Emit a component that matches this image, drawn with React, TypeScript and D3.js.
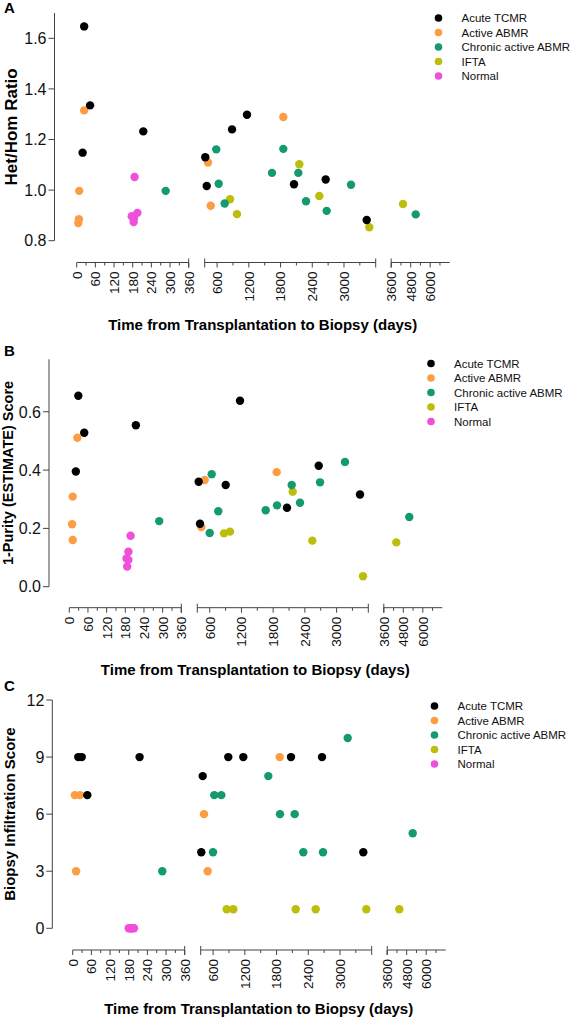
import React from 'react';
import * as d3 from 'd3';

type Pt = [number, number];

const categories = ['Acute TCMR', 'Active ABMR', 'Chronic active ABMR', 'IFTA', 'Normal'];
const colors = ['#000000', '#FC9D43', '#139A6F', '#BDBD0C', '#F04FDA'];

// Panel A: [days, Het/Hom ratio]
const hetHomTCMR: Pt[] = [[24, 1.647], [43, 1.335], [19, 1.148], [214, 1.232], [376, 1.13], [403, 1.016], [882, 1.24], [1165, 1.298], [2055, 1.023], [2654, 1.042], [3430, 0.882]];
const hetHomABMR: Pt[] = [[24, 1.315], [8, 0.997], [7, 0.885], [5, 0.87], [427, 1.109], [479, 0.938], [1852, 1.289]];
const hetHomChronic: Pt[] = [[286, 0.997], [584, 1.161], [630, 1.025], [743, 0.947], [1638, 1.068], [1852, 1.163], [2136, 1.068], [2282, 0.956], [2673, 0.918], [3133, 1.021], [5108, 0.904]];
const hetHomIFTA: Pt[] = [[844, 0.964], [976, 0.905], [2155, 1.102], [2533, 0.977], [3479, 0.853], [4326, 0.945]];
const hetHomNormal: Pt[] = [[186, 1.052], [177, 0.897], [195, 0.91], [184, 0.888], [183, 0.874]];

// Panel B: [days, 1-Purity (ESTIMATE) score]
const purityTCMR: Pt[] = [[29, 0.655], [48, 0.528], [21, 0.395], [214, 0.554], [391, 0.36], [416, 0.216], [902, 0.349], [1173, 0.638], [2062, 0.271], [2662, 0.415], [3443, 0.316]];
const purityABMR: Pt[] = [[26, 0.511], [11, 0.309], [9, 0.214], [11, 0.16], [505, 0.366], [441, 0.205], [1867, 0.393]];
const purityChronic: Pt[] = [[289, 0.225], [637, 0.386], [600, 0.184], [762, 0.259], [1659, 0.262], [1873, 0.279], [2151, 0.349], [2308, 0.288], [2687, 0.358], [3159, 0.428], [5169, 0.239]];
const purityIFTA: Pt[] = [[870, 0.183], [984, 0.189], [2170, 0.326], [2541, 0.158], [3500, 0.036], [4369, 0.152]];
const purityNormal: Pt[] = [[197, 0.175], [190, 0.12], [184, 0.097], [190, 0.092], [186, 0.069]];

// Panel C: [days, biopsy infiltration score]
const infilTCMR: Pt[] = [[18, 9], [29, 9], [47, 7], [215, 9], [403, 8], [376, 4], [887, 9], [1171, 9], [2073, 9], [2660, 9], [3441, 4]];
const infilABMR: Pt[] = [[7, 7], [23, 7], [11, 3], [427, 6], [497, 3], [1860, 9]];
const infilChronic: Pt[] = [[288, 3], [598, 4], [622, 7], [755, 7], [1644, 8], [1865, 6], [2143, 6], [2306, 4], [2679, 4], [3146, 10], [5169, 5]];
const infilIFTA: Pt[] = [[857, 1], [982, 1], [2162, 1], [2540, 1], [3498, 1], [4345, 1]];
const infilNormal: Pt[] = [[180, 0], [184, 0], [188, 0], [192, 0], [197, 0]];

const seg1Labels = [0, 60, 120, 180, 240, 300, 360];
const seg1Minor = [30, 90, 150, 210, 270, 330];
const seg2Labels = [600, 1200, 1800, 2400, 3000];
const seg2Minor = [900, 1500, 2100, 2700, 3300];
const seg3Labels = [3600, 4800, 6000];
const seg3Minor = [4200, 5400, 6600];

const xTitle = 'Time from Transplantation to Biopsy (days)';
const FONT = '"Liberation Sans", Arial, Helvetica, sans-serif';
const AXIS = '#444';

interface PanelCfg {
  letter: string;
  letterY: number;
  yTitle: string;
  yTitleX: number;
  yTitleSize: number;
  yDomain: [number, number];
  yRange: [number, number];
  yTicks: number[];
  yFmt: (v: number) => string;
  yAxisX: number;
  segStart: number;
  xAxisY: number;
  xTitleY: number;
  legendX: number;
  legendY: number;
  series: Pt[][];
}

const panels: PanelCfg[] = [
  {
    letter: 'A', letterY: 13, yTitle: 'Het/Hom Ratio', yTitleX: 11, yTitleSize: 17,
    yDomain: [0.8, 1.7], yRange: [240.7, 13], yTicks: [0.8, 1.0, 1.2, 1.4, 1.6], yFmt: d3.format('.1f'),
    yAxisX: 54.5, segStart: 76.7, xAxisY: 262.5, xTitleY: 330, legendX: 438.5, legendY: 18,
    series: [hetHomTCMR, hetHomABMR, hetHomChronic, hetHomIFTA, hetHomNormal],
  },
  {
    letter: 'B', letterY: 356, yTitle: '1-Purity (ESTIMATE) Score', yTitleX: 7.5, yTitleSize: 14.5,
    yDomain: [0, 0.78], yRange: [586.7, 359.3], yTicks: [0, 0.2, 0.4, 0.6], yFmt: d3.format('.1f'),
    yAxisX: 49, segStart: 69.3, xAxisY: 607.7, xTitleY: 675, legendX: 431, legendY: 363.5,
    series: [purityTCMR, purityABMR, purityChronic, purityIFTA, purityNormal],
  },
  {
    letter: 'C', letterY: 691, yTitle: 'Biopsy Infiltration Score', yTitleX: 9.5, yTitleSize: 15,
    yDomain: [0, 12], yRange: [928.3, 700], yTicks: [0, 3, 6, 9, 12], yFmt: d3.format('d'),
    yAxisX: 52.3, segStart: 72.7, xAxisY: 950, xTitleY: 1014, legendX: 434.5, legendY: 706,
    series: [infilTCMR, infilABMR, infilChronic, infilIFTA, infilNormal],
  },
];

function Panel({ cfg }: { cfg: PanelCfg }) {
  const s = cfg.segStart;
  const seg1 = d3.scaleLinear().domain([0, 360]).range([s, s + 112]);
  const seg2 = d3.scaleLinear().domain([365, 3600]).range([s + 128, s + 299]);
  const seg3 = d3.scaleLinear().domain([3600, 7200]).range([s + 314.5, s + 373]);
  const x = (d: number) => (d <= 362 ? seg1(d) : d < 3600 ? seg2(d) : seg3(d));
  const y = d3.scaleLinear().domain(cfg.yDomain).range(cfg.yRange);
  const ay = cfg.xAxisY;

  const segs = [
    { sc: seg1, labels: seg1Labels, minor: seg1Minor, capStart: false, capEnd: true },
    { sc: seg2, labels: seg2Labels, minor: seg2Minor, capStart: true, capEnd: true },
    { sc: seg3, labels: seg3Labels, minor: seg3Minor, capStart: true, capEnd: false },
  ];

  const order = [4, 3, 2, 1, 0];
  const [r0, r1] = cfg.yRange;

  return (
    <g>
      <text x={4} y={cfg.letterY} fontFamily={FONT} fontWeight="bold" fontSize={15}>{cfg.letter}</text>
      {/* Y axis */}
      <line x1={cfg.yAxisX} x2={cfg.yAxisX} y1={r1} y2={r0} stroke={AXIS} strokeWidth={1} />
      {cfg.yTicks.map((t) => (
        <g key={t}>
          <line x1={cfg.yAxisX - 6} x2={cfg.yAxisX} y1={y(t)} y2={y(t)} stroke={AXIS} strokeWidth={1} />
          <text x={cfg.yAxisX - 8} y={y(t)} dy="0.36em" textAnchor="end" fontFamily={FONT} fontSize={16} fill="#111">
            {cfg.yFmt(t)}
          </text>
        </g>
      ))}
      <text
        transform={`translate(${cfg.yTitleX},${(r0 + r1) / 2}) rotate(-90)`}
        textAnchor="middle" dy="0.36em" fontFamily={FONT} fontWeight="bold" fontSize={cfg.yTitleSize}
      >
        {cfg.yTitle}
      </text>
      {/* X axis segments */}
      {segs.map((sg, i) => {
        const [a, b] = sg.sc.range();
        return (
          <g key={i}>
            <line x1={a} x2={b} y1={ay} y2={ay} stroke={AXIS} strokeWidth={1} />
            {sg.labels.map((t) => (
              <g key={t}>
                <line x1={sg.sc(t)} x2={sg.sc(t)} y1={ay} y2={ay + 5} stroke={AXIS} strokeWidth={1} />
                <text
                  transform={`translate(${sg.sc(t)},${ay + 9}) rotate(-90)`}
                  textAnchor="end" dy="0.36em" fontFamily={FONT} fontSize={13.5} fill="#111"
                >
                  {t}
                </text>
              </g>
            ))}
            {sg.minor.map((t) => (
              <line key={t} x1={sg.sc(t)} x2={sg.sc(t)} y1={ay} y2={ay + 3} stroke={AXIS} strokeWidth={1} />
            ))}
            {sg.capStart && <line x1={a} x2={a} y1={ay - 4} y2={ay + 5} stroke={AXIS} strokeWidth={1} />}
            {sg.capEnd && <line x1={b} x2={b} y1={ay - 4} y2={ay + 5} stroke={AXIS} strokeWidth={1} />}
          </g>
        );
      })}
      <text x={s + 186} y={cfg.xTitleY} textAnchor="middle" fontFamily={FONT} fontWeight="bold" fontSize={15}>
        {xTitle}
      </text>
      {/* Points */}
      {order.map((ci) => (
        <g key={ci}>
          {cfg.series[ci].map(([d, v], k) => (
            <circle key={k} cx={x(d)} cy={y(v)} r={4.2} fill={colors[ci]} />
          ))}
        </g>
      ))}
      {/* Legend */}
      {categories.map((c, i) => (
        <g key={c}>
          <circle cx={cfg.legendX} cy={cfg.legendY + i * 14.5} r={3.8} fill={colors[i]} />
          <text x={cfg.legendX + 23} y={cfg.legendY + i * 14.5} dy="0.36em" fontFamily={FONT} fontSize={11.5} fill="#111">
            {c}
          </text>
        </g>
      ))}
    </g>
  );
}

export default function App() {
  return (
    <svg
      width={570}
      height={1020}
      viewBox="0 0 570 1020"
      style={{ position: 'absolute', left: 0, top: 0, background: '#fff' }}
    >
      <rect width={570} height={1020} fill="#fff" />
      {panels.map((p) => (
        <Panel key={p.letter} cfg={p} />
      ))}
    </svg>
  );
}
